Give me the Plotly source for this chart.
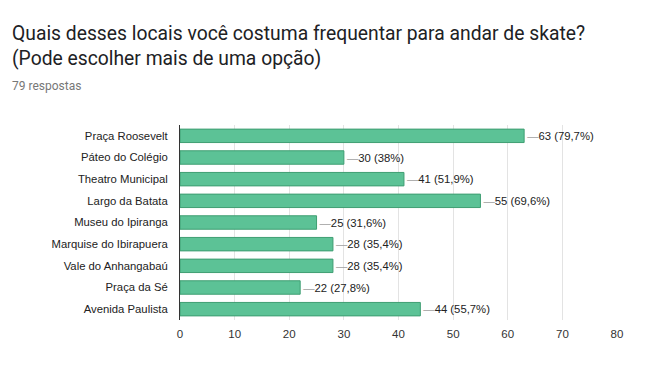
import plotly.graph_objects as go

categories = ["Praça Roosevelt", "Páteo do Colégio", "Theatro Municipal", "Largo da Batata",
              "Museu do Ipiranga", "Marquise do Ibirapuera", "Vale do Anhangabaú",
              "Praça da Sé", "Avenida Paulista"]
counts = [63, 30, 41, 55, 25, 28, 28, 22, 44]
percent_labels = ["79,7%", "38%", "51,9%", "69,6%", "31,6%", "35,4%", "35,4%", "27,8%", "55,7%"]
total_responses = 79
x_ticks = [0, 10, 20, 30, 40, 50, 60, 70, 80]

# the page body adds an 8px offset, so margins compensate for it
W, H = 654, 372
OFF = 8
ML, MR, MT, MB = 180 - OFF, 37 + OFF, 125 - OFF, 52 + OFF
PW, PH = W - ML - MR, H - MT - MB
texts = [f'<span style="color:#9e9e9e">—</span>{c} ({p})' for c, p in zip(counts, percent_labels)]

fig = go.Figure(go.Bar(
    x=counts, y=categories, orientation="h",
    marker=dict(color="#5cc296", line=dict(color="#3f9e72", width=1)),
    width=0.62,
    text=texts, textposition="outside", cliponaxis=False,
    textfont=dict(family="Liberation Sans, Arial", size=11.3, color="#222222"),
))

fig.update_layout(
    width=W, height=H,
    margin=dict(l=ML, r=MR, t=MT, b=MB),
    paper_bgcolor="white", plot_bgcolor="white",
    showlegend=False,
    title=dict(
        text="Quais desses locais você costuma frequentar para andar de skate?<br>(Pode escolher mais de uma opção)",
        font=dict(family="Roboto", size=19.3, color="#202124"),
        xref="container", yref="container", x=(12 - OFF) / W, xanchor="left",
        y=1 - 32 / H, yanchor="top",
    ),
    annotations=[dict(
        text=f"{total_responses} respostas", xref="paper", yref="paper",
        x=-(ML - 10 + OFF) / PW, xanchor="left", y=(H - MB - 86 + OFF) / PH, yanchor="middle",
        showarrow=False, font=dict(family="Roboto", size=12, color="#777777"),
    )],
)
fig.update_xaxes(
    range=[0, 80], tickvals=x_ticks, showgrid=True, gridcolor="#e3e3e3", gridwidth=1,
    zeroline=False, showline=False,
    tickfont=dict(family="Liberation Sans, Arial", size=11.5, color="#333333"),
    ticks="outside", ticklen=3, tickcolor="rgba(0,0,0,0)",
)
fig.update_yaxes(
    autorange="reversed", showgrid=False, showline=True, linecolor="#333333", linewidth=1,
    tickfont=dict(family="Liberation Sans, Arial", size=11.3, color="#222222"),
    ticks="outside", ticklen=9, tickcolor="rgba(0,0,0,0)",
)
fig.write_html("out.html")
